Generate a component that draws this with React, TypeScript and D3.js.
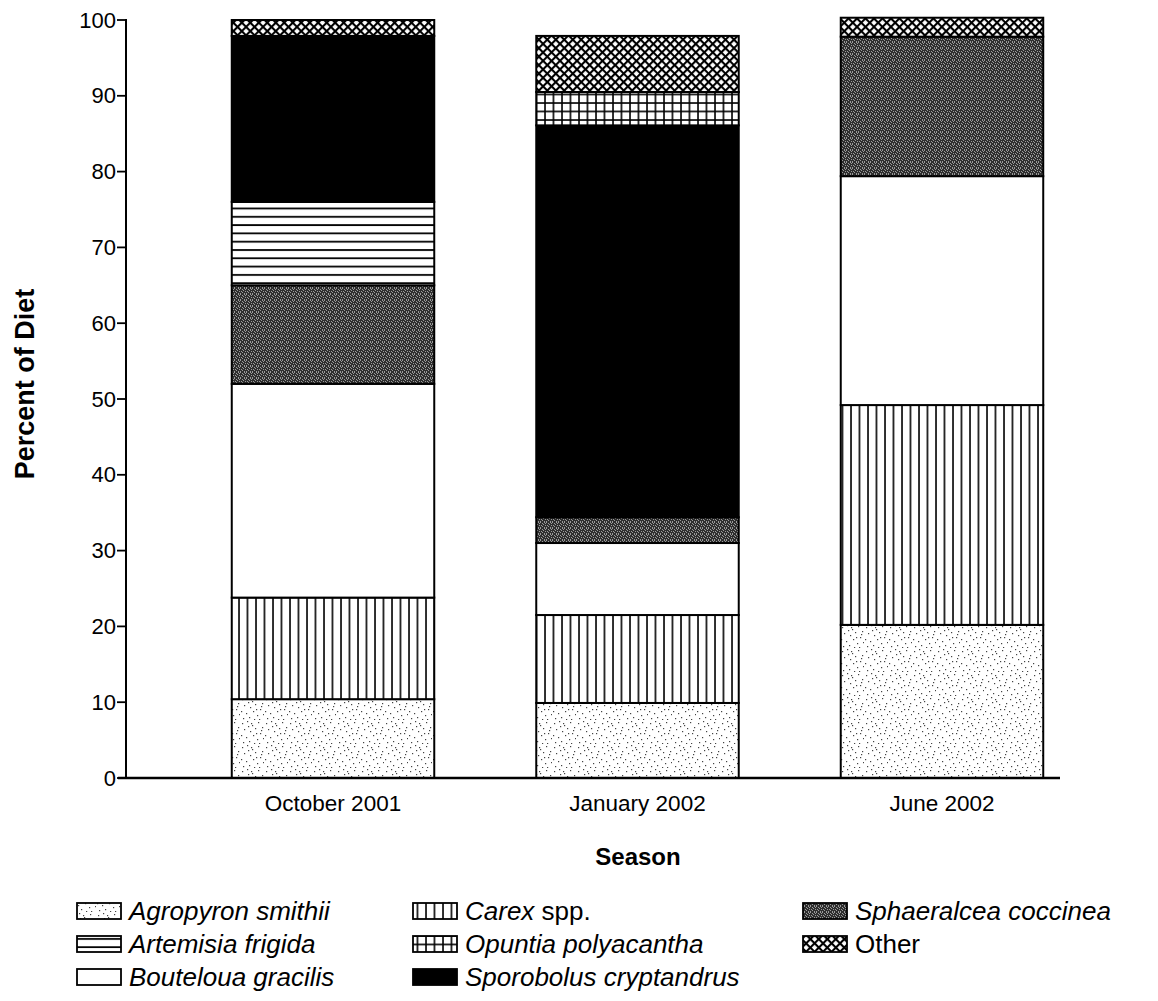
import React from "react";
import * as d3 from "d3";

// Seasons along the x axis
const seasons = ["October 2001", "January 2002", "June 2002"];

// Diet components, stacked bottom to top
const species = [
  "Agropyron smithii",
  "Carex spp.",
  "Bouteloua gracilis",
  "Sphaeralcea coccinea",
  "Artemisia frigida",
  "Sporobolus cryptandrus",
  "Opuntia polyacantha",
  "Other",
];

// Percent of diet per species, one value per season
const agropyron = [10.4, 9.9, 20.2];
const carex = [13.4, 11.6, 29.0];
const bouteloua = [28.2, 9.5, 30.2];
const sphaeralcea = [13.0, 3.4, 18.4];
const artemisia = [11.0, 0, 0];
const sporobolus = [21.9, 51.7, 0];
const opuntia = [0, 4.4, 0];
const other = [2.1, 7.4, 2.5];

const yTicks = [0, 10, 20, 30, 40, 50, 60, 70, 80, 90, 100];

const seriesValues = [agropyron, carex, bouteloua, sphaeralcea, artemisia, sporobolus, opuntia, other];

// Legend layout: three columns
const legendColumns = [
  ["Agropyron smithii", "Artemisia frigida", "Bouteloua gracilis"],
  ["Carex spp.", "Opuntia polyacantha", "Sporobolus cryptandrus"],
  ["Sphaeralcea coccinea", "Other"],
];

// Fixed stipple dot positions for the light speckle fill
const stippleDots: [number, number][] = [
  [2, 3], [7, 1], [12, 5], [18, 2], [22, 7], [4, 9], [10, 11], [15, 8],
  [20, 13], [1, 15], [6, 17], [13, 15], [17, 19], [23, 18], [3, 22], [9, 21],
  [14, 23], [19, 23], [11, 3], [21, 10], [8, 6], [16, 13],
];
const darkDots: [number, number][] = [
  [0, 0], [2, 1], [1, 3], [3, 2], [4, 0], [5, 3], [0, 5], [2, 4], [4, 5], [5, 1],
];

const fills: Record<string, string> = {
  "Agropyron smithii": "url(#p-stipple)",
  "Carex spp.": "url(#p-vlines)",
  "Bouteloua gracilis": "#ffffff",
  "Sphaeralcea coccinea": "url(#p-dark)",
  "Artemisia frigida": "url(#p-hlines)",
  "Sporobolus cryptandrus": "#000000",
  "Opuntia polyacantha": "url(#p-grid)",
  "Other": "url(#p-cross)",
};

const italicNames = new Set(species.filter((s) => s !== "Other"));

export default function App() {
  const width = 1158;
  const height = 1001;
  const axisX = 126;
  const plotRight = 1060;
  const yTop = 20;
  const yBottom = 778;

  const y = d3.scaleLinear().domain([0, 100]).range([yBottom, yTop]);
  const x = d3
    .scaleBand()
    .domain(seasons)
    .range([180, 1095])
    .paddingInner(0.335)
    .paddingOuter(0.17);

  const table = seasons.map((s, i) => {
    const row: Record<string, number | string> = { season: s };
    species.forEach((sp, k) => (row[sp] = seriesValues[k][i]));
    return row;
  });
  const stacked = d3.stack<any>().keys(species)(table);

  const font = "'Liberation Sans', Arial, Helvetica, sans-serif";

  return (
    <svg
      width={width}
      height={height}
      style={{ position: "absolute", left: 0, top: 0, background: "#fff" }}
      fontFamily={font}
    >
      <defs>
        <pattern id="p-stipple" width={24} height={24} patternUnits="userSpaceOnUse">
          <rect width={24} height={24} fill="#fff" />
          {stippleDots.map(([cx, cy], i) => (
            <rect key={i} x={cx} y={cy} width={1.2} height={1.2} fill="#444" />
          ))}
        </pattern>
        <pattern id="p-vlines" width={8.5} height={10} patternUnits="userSpaceOnUse">
          <rect width={8.5} height={10} fill="#fff" />
          <line x1={1} y1={0} x2={1} y2={10} stroke="#000" strokeWidth={1.6} />
        </pattern>
        <pattern id="p-hlines" width={10} height={8.3} patternUnits="userSpaceOnUse">
          <rect width={10} height={8.3} fill="#fff" />
          <line x1={0} y1={1} x2={10} y2={1} stroke="#000" strokeWidth={1.8} />
        </pattern>
        <pattern id="p-grid" width={8.5} height={8.5} patternUnits="userSpaceOnUse">
          <rect width={8.5} height={8.5} fill="#fff" />
          <line x1={1} y1={0} x2={1} y2={8.5} stroke="#000" strokeWidth={1.6} />
          <line x1={0} y1={1} x2={8.5} y2={1} stroke="#000" strokeWidth={1.6} />
        </pattern>
        <pattern
          id="p-cross"
          width={6}
          height={6}
          patternUnits="userSpaceOnUse"
          patternTransform="rotate(45)"
        >
          <rect width={6} height={6} fill="#fff" />
          <line x1={1} y1={0} x2={1} y2={6} stroke="#000" strokeWidth={2.2} />
          <line x1={0} y1={1} x2={6} y2={1} stroke="#000" strokeWidth={2.2} />
        </pattern>
        <pattern id="p-dark" width={6} height={6} patternUnits="userSpaceOnUse">
          <rect width={6} height={6} fill="#2e2e2e" />
          {darkDots.map(([cx, cy], i) => (
            <rect key={i} x={cx} y={cy} width={1} height={1} fill="#9a9a9a" />
          ))}
        </pattern>
      </defs>

      {/* Stacked bars */}
      {stacked.map((layer) =>
        layer.map((d, i) => {
          const v = d[1] - d[0];
          if (v <= 0) return null;
          const x0 = x(seasons[i])!;
          return (
            <rect
              key={layer.key + i}
              x={x0}
              y={y(d[1])}
              width={x.bandwidth()}
              height={y(d[0]) - y(d[1])}
              fill={fills[layer.key]}
              stroke="#000"
              strokeWidth={2}
            />
          );
        })
      )}

      {/* Y axis */}
      <line x1={axisX} y1={yTop - 1} x2={axisX} y2={yBottom} stroke="#000" strokeWidth={2} />
      {yTicks.map((t) => (
        <g key={t}>
          <line x1={axisX - 9} y1={y(t)} x2={axisX} y2={y(t)} stroke="#000" strokeWidth={1.8} />
          <text
            x={axisX - 10}
            y={y(t)}
            textAnchor="end"
            dominantBaseline="central"
            fontSize={22}
          >
            {t}
          </text>
        </g>
      ))}

      {/* X axis */}
      <line x1={axisX - 8} y1={yBottom} x2={plotRight} y2={yBottom} stroke="#000" strokeWidth={2.5} />
      {seasons.map((s) => (
        <text
          key={s}
          x={x(s)! + x.bandwidth() / 2}
          y={803}
          textAnchor="middle"
          dominantBaseline="central"
          fontSize={22.5}
        >
          {s}
        </text>
      ))}

      {/* Axis titles */}
      <text x={638} y={865} textAnchor="middle" fontSize={24} fontWeight="bold">
        Season
      </text>
      <text
        transform={`translate(34, 384) rotate(-90)`}
        textAnchor="middle"
        fontSize={27}
        fontWeight="bold"
      >
        Percent of Diet
      </text>

      {/* Legend */}
      {legendColumns.map((col, ci) =>
        col.map((name, ri) => {
          const lx = [77, 413, 803][ci];
          const ly = 911 + ri * 33;
          return (
            <g key={name}>
              <rect
                x={lx}
                y={ly - 8}
                width={44}
                height={16}
                fill={fills[name]}
                stroke="#000"
                strokeWidth={1.8}
              />
              <text
                x={lx + 52}
                y={ly}
                dominantBaseline="central"
                fontSize={26}
                fontStyle={italicNames.has(name) ? "italic" : "normal"}
              >
                {name === "Carex spp." ? (
                  <>
                    <tspan fontStyle="italic">Carex</tspan>
                    <tspan fontStyle="normal"> spp.</tspan>
                  </>
                ) : (
                  name
                )}
              </text>
            </g>
          );
        })
      )}
    </svg>
  );
}
